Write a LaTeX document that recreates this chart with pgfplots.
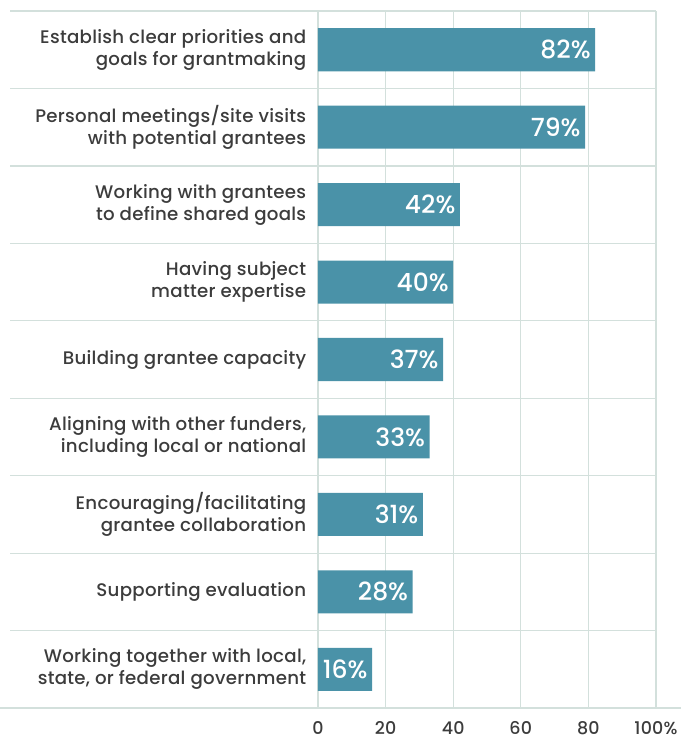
\documentclass[border=0pt]{standalone}
\usepackage{fontspec}
\setmainfont{Poppins}[UprightFont=* Medium, LetterSpace=1.5]
\newfontfamily\valfont{Poppins}[UprightFont=* Medium]
\usepackage{pgfplots}
\pgfplotsset{compat=1.18}
\definecolor{barblue}{RGB}{74,146,168}
\definecolor{gridc}{RGB}{211,224,220}
\definecolor{labelc}{RGB}{60,60,60}
\begin{document}
\begin{tikzpicture}
\path[use as bounding box] (-318pt,-32pt) rectangle (363pt,708pt);
\begin{axis}[
    xbar,
    scale only axis,
    width=338pt, height=697pt,
    xmin=0, xmax=100,
    ymin=-0.5, ymax=8.5,
    y dir=reverse,
    bar width=0.556,
    clip=false,
    axis line style={draw=none},
    tick style={draw=none},
    xmajorgrids,
    grid style={gridc, line width=1.2pt},
    xtick={0,20,40,60,80,100},
    xticklabels={0,20,40,60,80,100\%},
    ytick={0,...,8},
    yticklabels={
      {Establish clear priorities and\\goals for grantmaking},
      {Personal meetings/site visits\\with potential grantees},
      {Working with grantees\\to define shared goals},
      {Having subject\\matter expertise},
      {Building grantee capacity},
      {Aligning with other funders,\\including local or national},
      {Encouraging/facilitating\\grantee collaboration},
      {Supporting evaluation},
      {Working together with local,\\state, or federal government}},
    yticklabel style={align=right, anchor=east, xshift=-4pt,
      font=\fontsize{18.2}{22}\selectfont, text=labelc},
    xticklabel style={font=\fontsize{17.5}{20}\selectfont, text=labelc, yshift=-10pt},
    /pgf/number format/assume math mode=true,
    nodes near coords={\pgfmathprintnumber{\pgfplotspointmeta}\%},
    nodes near coords style={anchor=east, xshift=-1pt, text=white,
      font=\valfont\fontsize{25}{27}\selectfont},
]
\addplot[fill=barblue, draw=none] coordinates {
  (82,0) (79,1) (42,2) (40,3) (37,4) (33,5) (31,6) (28,7) (16,8)};
\pgfplotsinvokeforeach{-0.5,0.5,1.5,2.5,3.5,4.5,5.5,6.5,7.5}{
  \draw[gridc, line width=1.2pt] (axis cs:-91.1,#1) -- (axis cs:100,#1);
}
\draw[gridc, line width=1.2pt] (axis cs:-94.1,8.5) -- (axis cs:107.4,8.5);
\end{axis}
\end{tikzpicture}
\end{document}
